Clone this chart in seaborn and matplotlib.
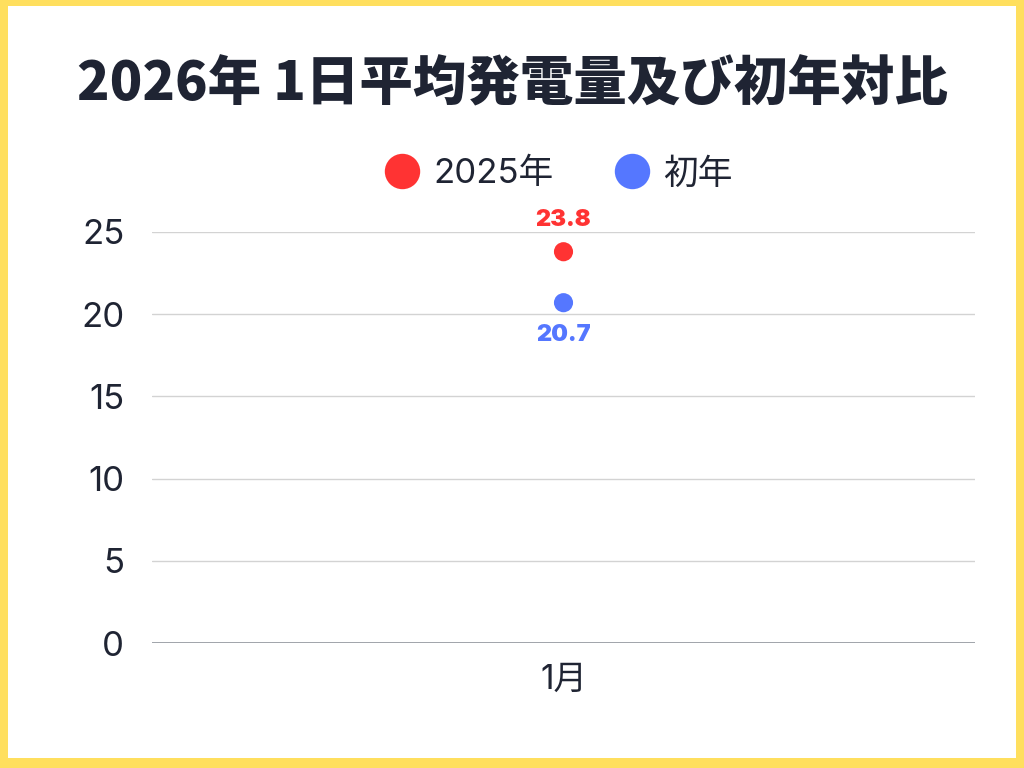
import numpy as np
import pandas as pd
import matplotlib
matplotlib.use('Agg')
import matplotlib.pyplot as plt
from matplotlib.patches import Rectangle
import seaborn as sns

# data
months = ['1月']
series_names = ['2025年', '初年']
values_2025 = [23.8]
values_first = [20.7]
colors = {'2025年': '#FF3333', '初年': '#5577FF'}

df = pd.DataFrame({
    'month': months * 2,
    'series': [series_names[0]] * len(months) + [series_names[1]] * len(months),
    'value': values_2025 + values_first,
})

sns.set_theme(style='white')
plt.rcParams['font.family'] = ['Inter', 'Noto Sans CJK JP', 'DejaVu Sans']
text_col = '#1F2433'

fig = plt.figure(figsize=(10.24, 7.68), dpi=100, facecolor='#FFDF5E')
# white card inside the yellow frame
fig.patches.append(Rectangle((8 / 1024, 10 / 768), 1 - 16 / 1024, 1 - 16 / 768,
                             transform=fig.transFigure, facecolor='white',
                             edgecolor='none', zorder=-5))

ax = fig.add_axes([152 / 1024, 1 - 643 / 768, (975 - 152) / 1024, (643 - 232) / 768])
ax.set_facecolor('none')
ax.set_zorder(2)

sns.scatterplot(data=df, x='month', y='value', hue='series', palette=colors,
                s=190, edgecolor='none', ax=ax, zorder=3, clip_on=False)

ax.set_xlim(-0.5, 0.5)
ax.set_ylim(0, 25)
ax.set_yticks([0, 5, 10, 15, 20, 25])
ax.grid(axis='y', color='#D3D3D3', linewidth=1)
ax.grid(axis='x', visible=False)
for s in ax.spines.values():
    s.set_visible(False)
ax.axhline(0, color='#9A9EA5', linewidth=1.3, zorder=2)
ax.tick_params(axis='y', length=0, pad=20, labelsize=25, labelcolor=text_col)
ax.tick_params(axis='x', length=0, pad=15, labelsize=24, labelcolor=text_col)
ax.set_xlabel('')
ax.set_ylabel('')

# value labels
for i, m in enumerate(months):
    ax.annotate(f'{values_2025[i]}', (i, values_2025[i]), xytext=(0, 23),
                textcoords='offset points', ha='center', va='center',
                color=colors['2025年'], fontsize=17, fontweight='black')
    ax.annotate(f'{values_first[i]}', (i, values_first[i]), xytext=(0, -23),
                textcoords='offset points', ha='center', va='center',
                color=colors['初年'], fontsize=17, fontweight='black')

sns.move_legend(ax, 'lower center', bbox_to_anchor=(0.488, 1.025), ncol=2,
                frameon=False, title=None, fontsize=25, markerscale=1.85,
                columnspacing=1.45, handletextpad=0.1, handlelength=1.6,
                labelcolor=text_col)

fig.text(0.5, 1 - 85 / 768, '2026年 1日平均発電量及び初年対比', ha='center', va='center',
         fontsize=38.5, fontweight='heavy', color=text_col,
         family=['Noto Sans CJK JP', 'DejaVu Sans'])

fig.savefig('out.png', dpi=100, facecolor=fig.get_facecolor())
